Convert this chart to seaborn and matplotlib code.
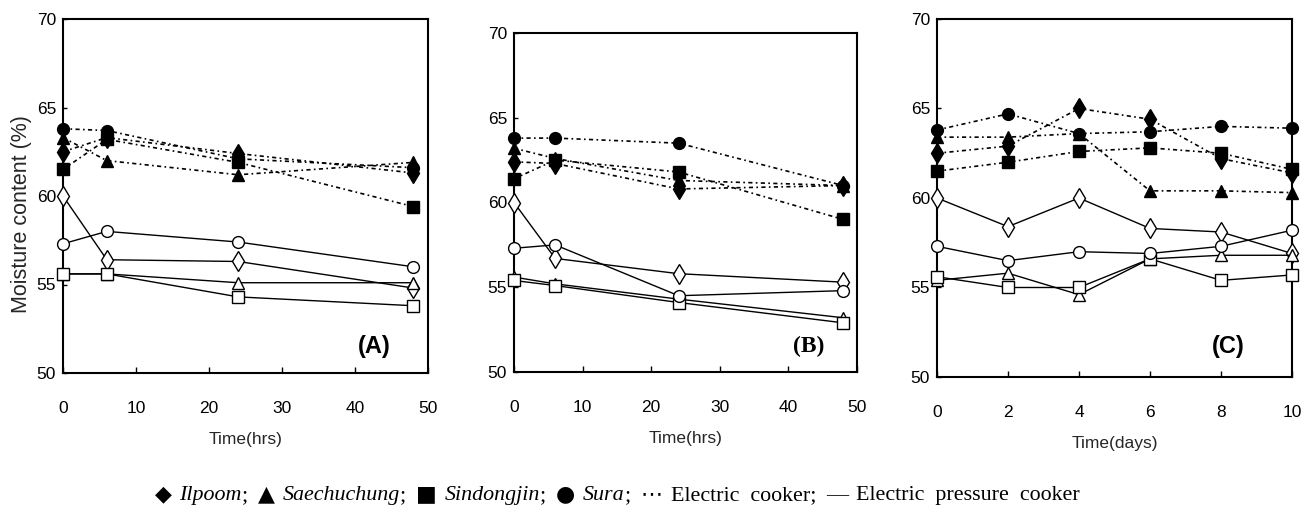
import matplotlib
matplotlib.use("Agg")
import matplotlib.pyplot as plt
import seaborn as sns
import pandas as pd
from matplotlib import font_manager

# ---------------- data ----------------
varieties = ["Ilpoom", "Saechuchung", "Sindongjin", "Sura"]
hours = [0, 6, 24, 48]
days = [0, 2, 4, 6, 8, 10]

# Panel A (hours) - electric cooker
a_ec_ilpoom = [62.5, 63.3, 62.4, 61.3]
a_ec_saechuchung = [63.3, 62.0, 61.2, 61.9]
a_ec_sindongjin = [61.5, 63.2, 61.9, 59.4]
a_ec_sura = [63.8, 63.7, 62.1, 61.6]
# Panel A - electric pressure cooker
a_pc_ilpoom = [60.0, 56.4, 56.3, 54.8]
a_pc_saechuchung = [55.6, 55.6, 55.1, 55.1]
a_pc_sindongjin = [55.6, 55.6, 54.3, 53.8]
a_pc_sura = [57.3, 58.0, 57.4, 56.0]

# Panel B (hours) - electric cooker
b_ec_ilpoom = [62.4, 62.3, 60.8, 61.0]
b_ec_saechuchung = [63.2, 62.6, 61.3, 61.0]
b_ec_sindongjin = [61.4, 62.5, 61.8, 59.0]
b_ec_sura = [63.8, 63.8, 63.5, 61.0]
# Panel B - electric pressure cooker
b_pc_ilpoom = [60.0, 56.7, 55.8, 55.3]
b_pc_saechuchung = [55.6, 55.2, 54.3, 53.2]
b_pc_sindongjin = [55.4, 55.1, 54.1, 52.9]
b_pc_sura = [57.3, 57.5, 54.5, 54.8]

# Panel C (days) - electric cooker
c_ec_ilpoom = [62.5, 62.9, 65.0, 64.4, 62.2, 61.4]
c_ec_saechuchung = [63.4, 63.4, 63.6, 60.4, 60.4, 60.3]
c_ec_sindongjin = [61.5, 62.0, 62.6, 62.8, 62.5, 61.6]
c_ec_sura = [63.8, 64.7, 63.6, 63.7, 64.0, 63.9]
# Panel C - electric pressure cooker
c_pc_ilpoom = [60.0, 58.4, 60.0, 58.3, 58.1, 56.9]
c_pc_saechuchung = [55.4, 55.8, 54.6, 56.6, 56.8, 56.8]
c_pc_sindongjin = [55.6, 55.0, 55.0, 56.6, 55.4, 55.7]
c_pc_sura = [57.3, 56.5, 57.0, 56.9, 57.3, 58.2]

x_ticks_hours = [0, 10, 20, 30, 40, 50]
x_ticks_days = [0, 2, 4, 6, 8, 10]
y_ticks = [50, 55, 60, 65, 70]
panel_labels = ["(A)", "(B)", "(C)"]
x_labels = ["Time(hrs)", "Time(hrs)", "Time(days)"]
y_label = "Moisture content (%)"

# ---------------- style ----------------
sns.set_theme(style="white")
avail = {f.name for f in font_manager.fontManager.ttflist}
narrow = "Liberation Sans Narrow" if "Liberation Sans Narrow" in avail else "Liberation Sans"
plt.rcParams["font.family"] = [narrow, "DejaVu Sans"]

W, H = 1314, 509
fig = plt.figure(figsize=(W / 100, H / 100), dpi=100)
fig.patch.set_facecolor("white")

axA = fig.add_axes([63 / W, 1 - 373 / H, 365 / W, 354 / H])
axB = fig.add_axes([514 / W, 1 - 372 / H, 343 / W, 339 / H])
axC = fig.add_axes([937 / W, 1 - 377 / H, 355 / W, 358 / H])

markers = {"Ilpoom": "d", "Saechuchung": "^", "Sindongjin": "s", "Sura": "o"}
msize = {"Ilpoom": 10.5, "Saechuchung": 8.5, "Sindongjin": 8, "Sura": 8.5}

panels = [
    (axA, hours, {"ec": [a_ec_ilpoom, a_ec_saechuchung, a_ec_sindongjin, a_ec_sura],
                  "pc": [a_pc_ilpoom, a_pc_saechuchung, a_pc_sindongjin, a_pc_sura]},
     (0, 50), x_ticks_hours),
    (axB, hours, {"ec": [b_ec_ilpoom, b_ec_saechuchung, b_ec_sindongjin, b_ec_sura],
                  "pc": [b_pc_ilpoom, b_pc_saechuchung, b_pc_sindongjin, b_pc_sura]},
     (0, 50), x_ticks_hours),
    (axC, days, {"ec": [c_ec_ilpoom, c_ec_saechuchung, c_ec_sindongjin, c_ec_sura],
                 "pc": [c_pc_ilpoom, c_pc_saechuchung, c_pc_sindongjin, c_pc_sura]},
     (0, 10), x_ticks_days),
]

label_pos = [(42.7, 51.5), (42.9, 51.5), (8.2, 51.7)]
label_family = [["Liberation Sans", "DejaVu Sans"], ["Liberation Serif", "DejaVu Serif"],
                ["Liberation Sans", "DejaVu Sans"]]

for i, (ax, xs, series, xlim, xt) in enumerate(panels):
    for cooker in ["pc", "ec"]:
        for v, ys in zip(varieties, series[cooker]):
            df = pd.DataFrame({"time": xs, "moisture": ys})
            filled = cooker == "ec"
            sns.lineplot(
                data=df, x="time", y="moisture", ax=ax, color="black",
                marker=markers[v], markersize=msize[v],
                markerfacecolor="black" if filled else "white",
                markeredgecolor="black", markeredgewidth=1.0,
                linestyle=(0, (2.5, 2, 1, 2)) if filled else "-",
                linewidth=1.2 if filled else 1.0,
                clip_on=False, zorder=4 if filled else 3,
            )
    ax.set_xlim(*xlim)
    ax.set_ylim(50, 70)
    ax.set_xticks(xt)
    ax.set_yticks(y_ticks)
    ax.set_xlabel(x_labels[i], fontsize=12.5, labelpad=12)
    ax.set_ylabel("")
    ax.tick_params(axis="x", direction="in", length=4, width=1, pad=20, labelsize=12.5,
                   bottom=True, colors="black")
    ax.tick_params(axis="y", direction="in", length=3, width=1, pad=5, labelsize=12.5,
                   left=True, colors="black")
    for s in ax.spines.values():
        s.set_visible(True)
        s.set_color("black")
        s.set_linewidth(1.5)
    ax.set_facecolor("white")
    ax.grid(False)
    lx, ly = label_pos[i]
    ax.text(lx, ly, panel_labels[i], fontsize=17, fontweight="bold",
            ha="center", va="center", family=label_family[i], color="black")

axA.set_ylabel(y_label, fontsize=15.5, labelpad=4)
axA.yaxis.set_label_coords(-0.085, 0.45)

# ---------------- legend line (text) ----------------
serif = ["Liberation Serif", "DejaVu Serif"]
sym = ["DejaVu Sans"]
pieces = [
    ("\u25C6", "normal", sym, 0.35), ("Ilpoom", "italic", serif, 0.0), (";", "normal", serif, 0.45),
    ("\u25B2", "normal", sym, 0.35), ("Saechuchung", "italic", serif, 0.0), (";", "normal", serif, 0.45),
    ("\u25A0", "normal", sym, 0.35), ("Sindongjin", "italic", serif, 0.0), (";", "normal", serif, 0.45),
    ("\u25CF", "normal", sym, 0.35), ("Sura", "italic", serif, 0.0), (";", "normal", serif, 0.45),
    ("\u22EF", "normal", ["DejaVu Sans"], 0.35), ("Electric  cooker;", "normal", serif, 0.45),
    ("\u2014", "normal", serif, 0.35), ("Electric  pressure  cooker", "normal", serif, 0.0),
]
target_left, target_right, baseline_px = 155, 1082, 500
fs = 14
texts = []
for t, st, fam, gap in pieces:
    texts.append(fig.text(0, 0, t, fontsize=fs, style=st, family=fam, color="black",
                          ha="left", va="baseline"))
fig.canvas.draw()
r = fig.canvas.get_renderer()

def total_width(size):
    tot = 0
    for txt, (t, st, fam, gap) in zip(texts, pieces):
        txt.set_fontsize(size)
        tot += txt.get_window_extent(r).width + gap * size * 100 / 72
    return tot

w = total_width(fs)
fs = fs * (target_right - target_left) / w
w = total_width(fs)
x = target_left
for txt, (t, st, fam, gap) in zip(texts, pieces):
    txt.set_position((x / W, 1 - baseline_px / H))
    x += txt.get_window_extent(r).width + gap * fs * 100 / 72

fig.savefig("out.png", dpi=100, facecolor="white")
